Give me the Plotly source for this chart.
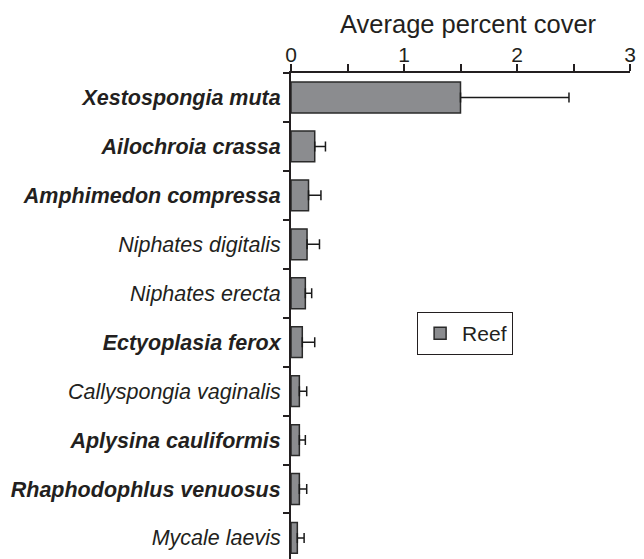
import plotly.graph_objects as go

species = ["Xestospongia muta", "Ailochroia crassa", "Amphimedon compressa",
           "Niphates digitalis", "Niphates erecta", "Ectyoplasia ferox",
           "Callyspongia vaginalis", "Aplysina cauliformis",
           "Rhaphodophlus venuosus", "Mycale laevis"]
bold = [True, True, True, False, False, True, False, True, True, False]
cover = [1.50, 0.21, 0.155, 0.142, 0.127, 0.10, 0.074, 0.074, 0.074, 0.056]
err = [0.96, 0.095, 0.11, 0.11, 0.056, 0.11, 0.065, 0.053, 0.065, 0.06]
x_title = "Average percent cover"

labels = [f"<b><i>{s}</i></b>" if b else f"<i>{s}</i>" for s, b in zip(species, bold)]

fig = go.Figure()
fig.add_trace(go.Bar(
    x=cover, y=labels, orientation="h", name="Reef",
    marker=dict(color="#8b8c8f", line=dict(color="#2a2a2a", width=1.5)),
    error_x=dict(type="data", array=err, symmetric=False, arrayminus=[0]*len(err),
                 color="#1a1a1a", thickness=1.5, width=5),
))

fig.add_annotation(text=x_title, xref="paper", yref="paper", x=0.5236, y=1.1008,
                   xanchor="center", yanchor="middle", showarrow=False,
                   font=dict(size=25.5))

fig.update_layout(
    width=644, height=559,
    margin=dict(l=283, r=22, t=65, b=8, autoexpand=False),
    paper_bgcolor="white", plot_bgcolor="white",
    font=dict(family="Liberation Sans, Arial, sans-serif", color="#231f20"),
    bargap=0.37,
    showlegend=True,
    legend=dict(x=0.372, y=0.508, xanchor="left", yanchor="top",
                bordercolor="#231f20", borderwidth=1, bgcolor="white",
                font=dict(size=21), itemwidth=34),
    xaxis=dict(side="top", range=[0, 3], dtick=1, tick0=0, automargin=False,
               showline=True, linecolor="#231f20", linewidth=2,
               ticks="outside", ticklen=7, tickwidth=1.5, tickcolor="#231f20",
               minor=dict(dtick=0.5, ticks="outside", ticklen=7, tickwidth=1.5, tickcolor="#231f20"),
               showgrid=False, zeroline=False, ticklabelstandoff=-6,
               tickfont=dict(size=21)),
    yaxis=dict(type="category", range=[9.43, -0.5], automargin=False,
               showline=True, linecolor="#231f20", linewidth=2,
               ticks="outside", ticklen=6, tickwidth=1.5, tickcolor="#231f20",
               tickson="boundaries", showgrid=False, zeroline=False,
               ticklabelstandoff=4, tickfont=dict(size=21.5)),
)

fig.write_html("out.html")
